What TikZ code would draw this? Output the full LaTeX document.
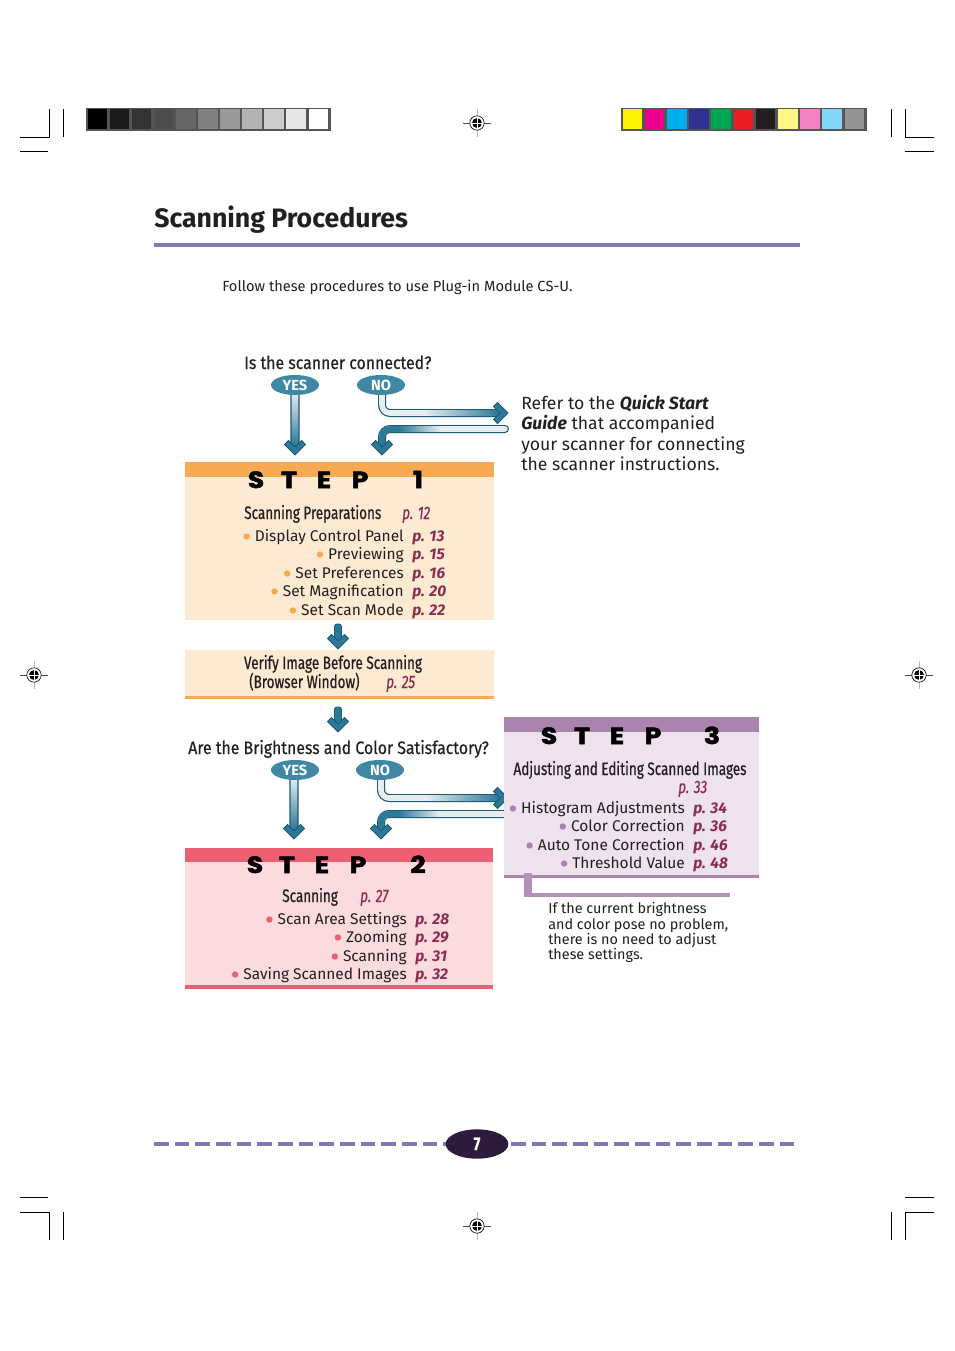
\documentclass[tikz,border=0pt]{standalone}
\usepackage{fontspec}
\setmainfont{Fira Sans}
\newfontfamily\condf[FakeStretch=0.75,FakeBold=0.6]{Fira Sans}
\newfontfamily\quesf[FakeStretch=0.88,FakeBold=0.5]{Fira Sans}
\newfontfamily\stepf[FakeStretch=1.15,FakeBold=2.2]{Poppins}
\usetikzlibrary{calc,shapes.geometric}
\definecolor{txt}{HTML}{231F20}
\definecolor{maroon}{HTML}{8B2D50}
\definecolor{rulec}{HTML}{7D7AB8}
\definecolor{yesno}{HTML}{3E87A5}
\definecolor{tubedark}{HTML}{1E5A72}
\definecolor{tubeteal}{HTML}{2B7898}
\definecolor{tubelight}{HTML}{E6EEF2}
\definecolor{orband}{HTML}{F8AA52}
\definecolor{orbody}{HTML}{FDEAD2}
\definecolor{rdband}{HTML}{EE5F72}
\definecolor{rdbody}{HTML}{FBDBDE}
\definecolor{puband}{HTML}{AA84AE}
\definecolor{pubody}{HTML}{EEE2EC}
\definecolor{pubrk}{HTML}{B491B8}
\definecolor{pagec}{HTML}{2D1A3C}
\definecolor{barframe}{HTML}{555555}
\tikzset{
 tubeout/.style={draw=tubedark, line width=6pt, line cap=round},
 tubein/.style={draw=tubelight, line width=4.2pt, line cap=round},
 tubetl/.style={draw=tubeteal, line width=4.2pt},
 chevron/.style={fill=tubeteal, draw=tubedark, line width=0.7pt, line join=round},
 yn/.style={ellipse, fill=yesno, text=white, inner sep=0pt, minimum width=36pt, minimum height=15pt, font=\bfseries\fontsize{11}{12}\selectfont},
 itemtxt/.style={font=\fontsize{11.6}{13}\selectfont, text=txt, inner sep=0pt},
 reftxt/.style={font=\fontsize{11.6}{13}\selectfont\bfseries\itshape, text=maroon, inner sep=0pt},
 headtxt/.style={font=\condf\fontsize{13.5}{16}\selectfont, text=txt, inner sep=0pt},
 headref/.style={font=\condf\fontsize{13.5}{16}\selectfont\itshape, text=maroon, inner sep=0pt},
 questxt/.style={font=\quesf\fontsize{13.5}{15}\selectfont, text=txt, inner sep=0pt},
 steptxt/.style={font=\stepf\bfseries\fontsize{17.5}{20}\selectfont, text=black, inner sep=0pt, anchor=base},
 plain/.style={text=txt, inner sep=0pt, anchor=base west},
}
\newcommand\chev[2]{\begin{scope}[shift={#1},rotate=#2]\path[chevron] (0,0) -- (-10.5,-10.5) -- (-6.5,-14.5) -- (0,-8) -- (6.5,-14.5) -- (10.5,-10.5) -- cycle;\end{scope}}
\newcommand\bitem[6]{%
 \node[itemtxt, anchor=base east] (#1) at (#2,#3) {#4};
 \node[reftxt, anchor=base west] (#1r) at ($(#1.base east)+(8,0)$) {#5};
 \fill[#6] ($(#1.base west)+(-8,-4.5)$) circle (2.4pt);}
\newcommand\steplabel[8]{%
 \node[steptxt] (#1s) at (#3,#2) {S};
 \node[steptxt] (#1t) at (#4,#2) {T};
 \node[steptxt] (#1e) at (#5,#2) {E};
 \node[steptxt] (#1p) at (#6,#2) {P};
 \node[steptxt] (#1n) at (#7,#2) {#8};}
\newcommand\regmark[1]{\begin{scope}[shift={#1}]
 \draw[gray!55, line width=0.5pt] (0,-14) -- (0,14);
 \draw[black!70, line width=0.5pt] (-14,0) -- (14,0);
 \draw[black, line width=0.5pt, fill=white] (0,0) circle (5.4pt);
 \fill[black] (0,0) circle (3.7pt);
 \draw[white, line width=0.7pt] (-5,0) -- (5,0) (0,-5) -- (0,5);
\end{scope}}
\newcommand\smallarrow[1]{\begin{scope}[shift={#1}]
 \path[chevron, rounded corners=2pt] (-3.5,-2) -- (3.5,-2) -- (3.5,16) -- (-3.5,16) -- cycle;
 \chev{(0,23)}{0}
\end{scope}}
\begin{document}
\begin{tikzpicture}[x=0.75pt,y=-0.75pt]
\useasboundingbox (0,0) rectangle (954,1351);
\fill[white] (0,0) rectangle (954,1351);
% crop marks top
\draw[black, line width=0.75pt] (20,138) -- (49,138) -- (49,109);
\draw[black, line width=0.75pt] (20,152) -- (48,152);
\draw[black, line width=0.75pt] (63,109) -- (63,137);
\draw[black, line width=0.75pt] (934,138) -- (905,138) -- (905,109);
\draw[black, line width=0.75pt] (905,152) -- (934,152);
\draw[black, line width=0.75pt] (891,109) -- (891,137);
% crop marks bottom
\draw[black, line width=0.75pt] (20,1197) -- (48,1197);
\draw[black, line width=0.75pt] (20,1212) -- (49,1212) -- (49,1240);
\draw[black, line width=0.75pt] (63,1212) -- (63,1240);
\draw[black, line width=0.75pt] (934,1197) -- (905,1197);
\draw[black, line width=0.75pt] (934,1212) -- (905,1212) -- (905,1240);
\draw[black, line width=0.75pt] (891,1212) -- (891,1240);
% registration marks
\regmark{(477,123)}
\regmark{(477,1226)}
\regmark{(34,675)}
\regmark{(919,675)}
% gray bar
\fill[barframe] (86,108) rectangle (331,131);
\foreach \c [count=\i from 0] in {000000,1A1A1A,333333,4D4D4D,666666,808080,999999,B3B3B3,CCCCCC,E6E6E6,FFFFFF}{
 \definecolor{cc}{HTML}{\c}
 \fill[cc] ({87.5+\i*22.1},109.5) rectangle ({87.5+\i*22.1+19.6},129.5);
}
% color bar
\fill[barframe] (621,108) rectangle (867,131);
\foreach \c [count=\i from 0] in {FFF200,EC008C,00AEEF,2E3192,00A651,ED1C24,231F20,FFF685,F282C1,7FD6F7,939393}{
 \definecolor{cc}{HTML}{\c}
 \fill[cc] ({622.5+\i*22.2},109.5) rectangle ({622.5+\i*22.2+19.7},129.5);
}
% title
\node[plain, font=\bfseries\fontsize{20}{24}\selectfont] (title) at (154,228) {Scanning Procedures};
\fill[rulec] (154,243) rectangle (800,247.5);
\node[plain, font=\fontsize{11}{13}\selectfont] (intro) at (222,292) {Follow these procedures to use Plug-in Module CS-U.};
% question 1
\node[plain, questxt] (q1) at (244,369) {Is the scanner connected?};
% tubes group 1
\shade[top color=tubelight, bottom color=tubeteal, draw=tubedark, line width=0.8pt, rounded corners=2pt] (291,392) rectangle (299,446);
\chev{(295,455)}{0}
\draw[tubeout, rounded corners=6pt] (382,392) -- (382,413) -- (498,413);
\draw[tubein, rounded corners=6pt] (382,392) -- (382,413) -- (498,413);
\shade[left color=tubelight, right color=tubeteal] (425,410.3) rectangle (499,415.7);
\chev{(508,413)}{90}
\draw[tubeout, rounded corners=6pt] (505,429) -- (382,429) -- (382,444);
\draw[tubein, rounded corners=6pt] (505,429) -- (382,429) -- (382,444);
\draw[tubetl, rounded corners=6pt] (400,429) -- (382,429) -- (382,446);
\shade[left color=tubeteal, right color=tubelight] (399,426.2) rectangle (440,431.8);
\chev{(382,455)}{0}
\node[yn] (yes1) at (295,385) {YES};
\node[yn] (no1) at (381,385) {NO};
% refer text
\node[plain, font=\fontsize{13.2}{15}\selectfont] (ref1) at (521,409) {Refer to the \textbf{\itshape Quick Start}};
\node[plain, font=\fontsize{13.2}{15}\selectfont] (ref2) at (521,429) {\textbf{\itshape Guide} that accompanied};
\node[plain, font=\fontsize{13.2}{15}\selectfont] (ref3) at (521,450) {your scanner for connecting};
\node[plain, font=\fontsize{13.2}{15}\selectfont] (ref4) at (521,470) {the scanner instructions.};
% STEP 1 box
\fill[orbody] (185,477) rectangle (494,620);
\fill[orband] (185,462) rectangle (494,477);
\steplabel{st1}{488}{256}{289}{324}{360}{418}{1}
\node[headtxt, anchor=base west] (h1) at (244,519) {Scanning Preparations};
\node[headref, anchor=base west] (h1r) at (402,519) {p. 12};
\bitem{a1}{404}{541}{Display Control Panel}{p. 13}{orband}
\bitem{a2}{404}{559}{Previewing}{p. 15}{orband}
\bitem{a3}{404}{578}{Set Preferences}{p. 16}{orband}
\bitem{a4}{404}{596}{Set Magnification}{p. 20}{orband}
\bitem{a5}{404}{615}{Set Scan Mode}{p. 22}{orband}
\smallarrow{(338,626)}
% verify box
\fill[orbody] (185,650) rectangle (494,697);
\fill[orband] (185,695.5) rectangle (494,698.5);
\node[headtxt, anchor=base] (v1) at (333,669) {Verify Image Before Scanning};
\node[headtxt, anchor=base west] (v2) at (249,688) {(Browser Window)};
\node[headref, anchor=base west] (v2r) at (386,688) {p. 25};
\smallarrow{(338,709)}
% question 2
\node[plain, questxt] (q2) at (188,754) {Are the Brightness and Color Satisfactory?};
% tubes group 2
\shade[top color=tubelight, bottom color=tubeteal, draw=tubedark, line width=0.8pt, rounded corners=2pt] (290,777) rectangle (298,830);
\chev{(294,839)}{0}
\draw[tubeout, rounded corners=6pt] (381,777) -- (381,798) -- (498,798);
\draw[tubein, rounded corners=6pt] (381,777) -- (381,798) -- (498,798);
\shade[left color=tubelight, right color=tubeteal] (425,795.3) rectangle (499,800.7);
\chev{(508,798)}{90}
\draw[tubeout, rounded corners=6pt] (505,814) -- (381,814) -- (381,829);
\draw[tubein, rounded corners=6pt] (505,814) -- (381,814) -- (381,829);
\draw[tubetl, rounded corners=6pt] (399,814) -- (381,814) -- (381,831);
\shade[left color=tubeteal, right color=tubelight] (398,811.2) rectangle (440,816.8);
\chev{(381,839)}{0}
\node[yn] (yes2) at (295,770) {YES};
\node[yn] (no2) at (380,770) {NO};
% STEP 2 box
\fill[rdbody] (185,862) rectangle (493,986);
\fill[rdband] (185,848) rectangle (493,862);
\fill[rdband] (185,985) rectangle (493,988.5);
\steplabel{st2}{873}{255}{287}{322}{358}{418}{2}
\node[headtxt, anchor=base west] (h2) at (282,902) {Scanning};
\node[headref, anchor=base west] (h2r) at (360,902) {p. 27};
\bitem{b1}{407}{924}{Scan Area Settings}{p. 28}{rdband}
\bitem{b2}{407}{942}{Zooming}{p. 29}{rdband}
\bitem{b3}{407}{961}{Scanning}{p. 31}{rdband}
\bitem{b4}{407}{979}{Saving Scanned Images}{p. 32}{rdband}
% STEP 3 box
\fill[pubody] (504,732) rectangle (759,876);
\fill[puband] (504,717) rectangle (759,732);
\fill[puband] (504,875) rectangle (759,878);
\steplabel{st3}{744}{549}{582}{617}{653}{712}{3}
\node[headtxt, anchor=base] (h3) at (630,775) {Adjusting and Editing Scanned Images};
\node[headref, anchor=base west] (h3r) at (678,793) {p. 33};
\bitem{c1}{685}{813}{Histogram Adjustments}{p. 34}{puband}
\bitem{c2}{685}{831}{Color Correction}{p. 36}{puband}
\bitem{c3}{685}{850}{Auto Tone Correction}{p. 46}{puband}
\bitem{c4}{685}{868}{Threshold Value}{p. 48}{puband}
% bracket
\fill[pubrk] (524,873) rectangle (532,897);
\fill[pubrk] (524,893) rectangle (730,896.5);
\node[plain, font=\fontsize{10.8}{12}\selectfont] (n1) at (548,913) {If the current brightness};
\node[plain, font=\fontsize{10.8}{12}\selectfont] (n2) at (548,929) {and color pose no problem,};
\node[plain, font=\fontsize{10.8}{12}\selectfont] (n3) at (548,944) {there is no need to adjust};
\node[plain, font=\fontsize{10.8}{12}\selectfont] (n4) at (548,959) {these settings.};
% footer
\draw[rulec, line width=3pt, dash pattern=on 11pt off 4.5pt] (154,1143.5) -- (446,1143.5);
\draw[rulec, line width=3pt, dash pattern=on 11pt off 4.5pt] (511,1143.5) -- (800,1143.5);
\node[ellipse, fill=pagec, text=white, minimum width=47pt, minimum height=22pt, inner sep=0pt, font=\condf\bfseries\fontsize{14}{15}\selectfont] (page) at (477,1144) {7};
\end{tikzpicture}
\end{document}
